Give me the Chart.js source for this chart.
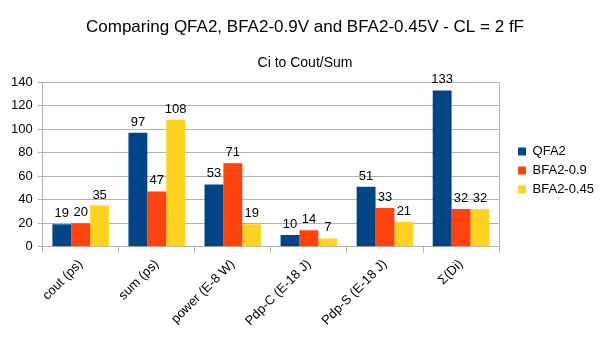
<!DOCTYPE html>
<html>
<head>
<meta charset="utf-8">
<script src="https://cdn.jsdelivr.net/npm/chart.js@4.4.0/dist/chart.umd.min.js"></script>
<style>
  html, body { margin: 0; padding: 0; background: #fff; }
  #wrap { width: 605px; height: 340px; }
</style>
</head>
<body>
<div id="wrap"><canvas id="chart" width="605" height="340"></canvas></div>
<script>
// chart data
const categories = ['cout (ps)', 'sum (ps)', 'power (E-8 W)', 'Pdp-C (E-18 J)', 'Pdp-S (E-18 J)', 'Σ(Di)'];
const qfa2 = [19, 97, 53, 10, 51, 133];
const bfa2_09 = [20, 47, 71, 14, 33, 32];
const bfa2_045 = [35, 108, 19, 7, 21, 32];
const seriesNames = ['QFA2', 'BFA2-0.9', 'BFA2-0.45'];
const yTicks = [0, 20, 40, 60, 80, 100, 120, 140];

const FONT = '"Liberation Sans", Arial, sans-serif';
const LEGEND_GAP = 13;

// value labels above each bar
const valueLabels = {
    id: 'valueLabels',
    afterDatasetsDraw(chart) {
        const ctx = chart.ctx;
        ctx.save();
        ctx.font = '13px ' + FONT;
        ctx.fillStyle = '#000';
        ctx.textAlign = 'center';
        ctx.textBaseline = 'alphabetic';
        chart.data.datasets.forEach((ds, i) => {
            chart.getDatasetMeta(i).data.forEach((bar, j) => {
                ctx.fillText(ds.data[j], bar.x, bar.y - 7);
            });
        });
        ctx.restore();
    }
};

// right edge of the plot frame
const rightBorder = {
    id: 'rightBorder',
    beforeDatasetsDraw(chart) {
        const a = chart.chartArea;
        const ctx = chart.ctx;
        ctx.save();
        ctx.strokeStyle = '#b3b3b3';
        ctx.lineWidth = 1;
        ctx.beginPath();
        ctx.moveTo(Math.round(a.right) + 0.5, a.top);
        ctx.lineTo(Math.round(a.right) + 0.5, a.bottom + 5);
        ctx.stroke();
        ctx.restore();
    }
};

// push the legend a bit away from the plot
const legendGap = {
    id: 'legendGap',
    beforeInit(chart) {
        const fit = chart.legend.fit;
        chart.legend.fit = function() {
            fit.bind(chart.legend)();
            this.width += LEGEND_GAP;
        };
    },
    afterLayout(chart) {
        chart.legend.left += LEGEND_GAP;
    }
};

const makeSet = (label, data, color) => ({
    label: label,
    data: data,
    backgroundColor: color,
    borderWidth: 0,
    barPercentage: 1.0,
    categoryPercentage: 0.745
});

new Chart(document.getElementById('chart').getContext('2d'), {
    type: 'bar',
    data: {
        labels: categories,
        datasets: [
            makeSet(seriesNames[0], qfa2, '#004586'),
            makeSet(seriesNames[1], bfa2_09, '#ff420e'),
            makeSet(seriesNames[2], bfa2_045, '#ffd320')
        ]
    },
    options: {
        responsive: false,
        animation: false,
        layout: { padding: { left: 6, right: 1, top: 8, bottom: 7 } },
        plugins: {
            title: {
                display: true,
                text: 'Comparing QFA2, BFA2-0.9V and BFA2-0.45V - CL = 2 fF',
                color: '#000',
                font: { family: FONT, size: 17, weight: 'normal' },
                padding: { top: 9, bottom: 17 }
            },
            subtitle: {
                display: true,
                text: 'Ci to Cout/Sum',
                color: '#000',
                font: { family: FONT, size: 14, weight: 'normal' },
                padding: { top: 0, bottom: 11 }
            },
            legend: {
                position: 'right',
                labels: {
                    color: '#000',
                    font: { family: FONT, size: 13 },
                    boxWidth: 8,
                    boxHeight: 8,
                    padding: 6
                }
            },
            tooltip: { enabled: false }
        },
        scales: {
            x: {
                grid: {
                    offset: true,
                    drawOnChartArea: false,
                    color: '#b3b3b3',
                    tickLength: 6
                },
                border: { color: '#b3b3b3' },
                ticks: {
                    color: '#000',
                    font: { family: FONT, size: 13 },
                    minRotation: 45,
                    maxRotation: 45,
                    padding: 4
                }
            },
            y: {
                min: 0,
                max: 140,
                afterBuildTicks: (axis) => { axis.ticks = yTicks.map(v => ({ value: v })); },
                grid: { color: '#b3b3b3', tickLength: 5 },
                border: { color: '#b3b3b3' },
                ticks: {
                    color: '#000',
                    font: { family: FONT, size: 13 },
                    padding: 5
                }
            }
        }
    },
    plugins: [valueLabels, rightBorder, legendGap]
});
</script>
</body>
</html>
